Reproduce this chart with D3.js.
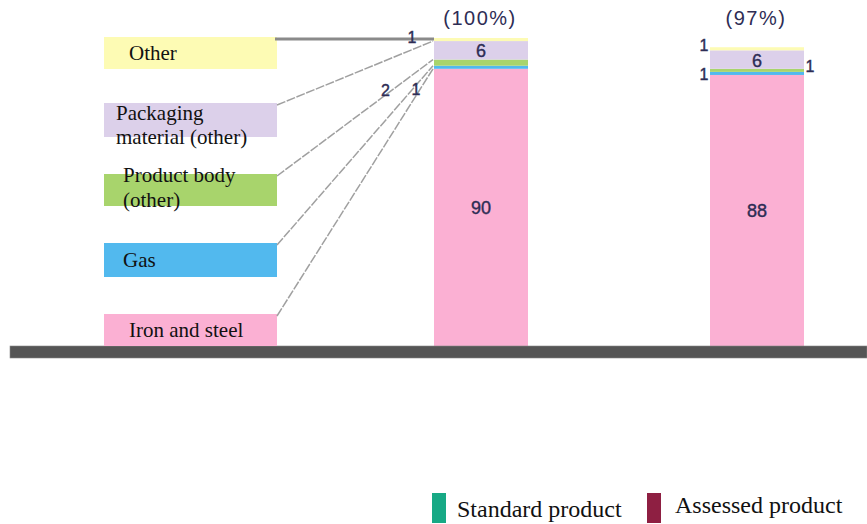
<!DOCTYPE html>
<html>
<head>
<meta charset="utf-8">
<script src="https://cdn.jsdelivr.net/npm/d3@7"></script>
<style>
  body { margin: 0; background: #fff; }
  svg { display: block; }
</style>
</head>
<body>
<div id="chart"></div>
<script>
// Data (bottom to top of each stacked bar)
let categories = ["Iron and steel", "Gas", "Product body (other)", "Packaging material (other)", "Other"];
let categoryLines = [["Iron and steel"], ["Gas"], ["Product body", "(other)"], ["Packaging", "material (other)"], ["Other"]];
let products = ["Standard product", "Assessed product"];
let standardValues = [90, 1, 2, 6, 1];
let assessedValues = [88, 1, 1, 6, 1];
let totalLabels = ["(100%)", "(97%)"];

// Styles
let segColors = ["#fbb0d3", "#52b9ee", "#a8d46c", "#dcd0ea", "#fdfbb4"];
let productColors = ["#17a985", "#8e1f42"];

let w = 867;
let h = 524;

let svg = d3.select("#chart")
  .append("svg")
  .attr("width", w)
  .attr("height", h);

let y = d3.scaleLinear().domain([0, 100]).range([346, 38]);
let x = d3.scalePoint().domain(products).range([481, 757]);
let barW = 94;

let series = [standardValues, assessedValues];

// stacked bars
series.forEach((vals, i) => {
  let stacked = d3.stack().keys(d3.range(vals.length))([vals]);
  let g = svg.append("g");
  g.selectAll("rect")
    .data(stacked)
    .join("rect")
    .attr("x", x(products[i]) - barW / 2)
    .attr("width", barW)
    .attr("y", d => y(d[0][1]))
    .attr("height", d => y(d[0][0]) - y(d[0][1]))
    .attr("fill", (d, k) => segColors[k]);
});

// baseline
svg.append("rect")
  .attr("x", 10).attr("y", y(0))
  .attr("width", w - 10).attr("height", 12)
  .attr("fill", "#555")
  .attr("stroke", "#888").attr("stroke-width", 0.6);

// left category boxes (top to bottom visually)
let boxX = 104, boxW = 173;
let boxTops = [314, 243, 174, 103, 37];
let boxH = [32, 34, 32, 34, 32];
let textX = [129, 123, 123, 116, 129];
let firstBase = [23, 24, 8, 17, 23];
let lineGap = [0, 0, 25, 24, 0];

let lbl = svg.append("g");
categories.forEach((c, k) => {
  lbl.append("rect")
    .attr("x", boxX).attr("y", boxTops[k])
    .attr("width", boxW).attr("height", boxH[k])
    .attr("fill", segColors[k]);
  let t = lbl.append("text")
    .attr("font-family", "Liberation Serif, Times New Roman, serif")
    .attr("font-size", 21)
    .attr("fill", "#111");
  categoryLines[k].forEach((ln, j) => {
    t.append("tspan")
      .attr("x", textX[k])
      .attr("y", boxTops[k] + firstBase[k] + j * lineGap[k])
      .text(ln);
  });
});

// leader lines from boxes to the first bar
let bx0 = x(products[0]) - barW / 2;
let cum0 = d3.cumsum(standardValues);
categories.forEach((c, k) => {
  let x1 = boxX + boxW, y1 = boxTops[k] + 2;
  let x2 = bx0, y2 = y(cum0[k]);
  if (k === 4) {
    svg.append("line")
      .attr("x1", x1 - 2).attr("y1", y2 + 1).attr("x2", x2).attr("y2", y2 + 1)
      .attr("stroke", "#8a8a8a").attr("stroke-width", 3);
  } else {
    svg.append("line")
      .attr("x1", x1).attr("y1", y1).attr("x2", x2 - 1).attr("y2", y2)
      .attr("stroke", "#a0a0a0").attr("stroke-width", 1.5)
      .attr("stroke-dasharray", "9,1.5");
  }
});

let numFont = "Liberation Sans, Arial, sans-serif";
let numColor = "#2e2d55";
function num(xp, yp, txt, size, anchor) {
  svg.append("text")
    .attr("x", xp).attr("y", yp)
    .attr("text-anchor", anchor || "middle")
    .attr("dominant-baseline", "central")
    .attr("font-family", numFont)
    .attr("font-size", size)
    .attr("fill", numColor)
    .attr("stroke", numColor)
    .attr("stroke-width", 0.4)
    .text(txt);
}

// totals
series.forEach((vals, i) => {
  svg.append("text")
    .attr("x", x(products[i]) - 1).attr("y", 18)
    .attr("text-anchor", "middle")
    .attr("dominant-baseline", "central")
    .attr("font-family", numFont)
    .attr("font-size", 20)
    .attr("letter-spacing", 1.5)
    .attr("fill", numColor)
    .text(totalLabels[i]);
});

// big segment labels (iron and steel, packaging)
series.forEach((vals, i) => {
  let cum = d3.cumsum(vals);
  [0, 3].forEach(k => {
    let lo = k === 0 ? 0 : cum[k - 1];
    num(x(products[i]), y((lo + cum[k]) / 2) + 1, vals[k], 18);
  });
});

// small labels for the standard product, along the leader lines
let sx = boxX + boxW;
num(bx0 - 22, y(cum0[4]) - 1, standardValues[4], 16);
[[2, 0.69, -5], [1, 0.885, 3]].forEach(([k, t, dy]) => {
  let y1 = boxTops[k] + 2, y2 = y(cum0[k]);
  num(sx + t * (bx0 - sx), y1 + t * (y2 - y1) + dy, standardValues[k], 16);
});

// small labels for the assessed product
let bx1 = x(products[1]) - barW / 2;
let cum1 = d3.cumsum(assessedValues);
num(bx1 - 6, y(cum1[4]) - 2, assessedValues[4], 16);
num(bx1 + barW + 6, y(cum1[2]) - 2, assessedValues[2], 16);
num(bx1 - 6, y(cum1[1]) + 3, assessedValues[1], 16);

// bottom legend
let legX = [432, 647];
let legTextX = [457, 675];
products.forEach((p, i) => {
  svg.append("rect")
    .attr("x", legX[i]).attr("y", 493)
    .attr("width", 14).attr("height", 30)
    .attr("fill", productColors[i]);
  svg.append("text")
    .attr("x", legTextX[i]).attr("y", i === 0 ? 517 : 513)
    .attr("font-family", "Liberation Serif, Times New Roman, serif")
    .attr("font-size", 24)
    .attr("fill", "#111")
    .text(p);
});
</script>
</body>
</html>
